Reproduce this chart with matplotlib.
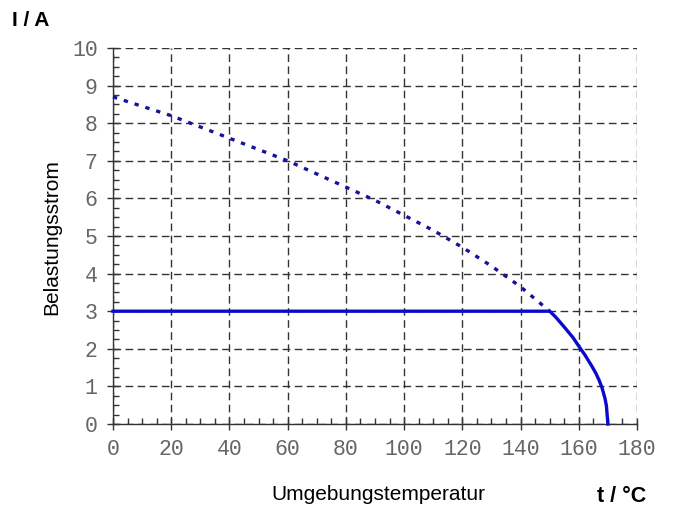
import matplotlib
matplotlib.use("Agg")
import matplotlib.pyplot as plt
from matplotlib.ticker import MultipleLocator

# derating curve: load current vs. ambient temperature
temp_max = [0, 10, 20, 30, 40, 50, 60, 70, 80, 90, 100, 110, 120, 130, 140, 150]
curr_max = [8.7, 8.45, 8.2, 7.9, 7.6, 7.3, 7.0, 6.65, 6.3, 5.95, 5.55, 5.15, 4.7, 4.2, 3.65, 3.0]

temp_op = [0, 150, 152, 155, 158, 160, 162, 164, 165, 166, 167, 168, 169, 169.5, 170]
curr_op = [3.0, 3.0, 2.85, 2.58, 2.3, 2.07, 1.85, 1.6, 1.47, 1.33, 1.16, 0.96, 0.68, 0.48, 0.0]

xticks = [0, 20, 40, 60, 80, 100, 120, 140, 160, 180]
yticks = [0, 1, 2, 3, 4, 5, 6, 7, 8, 9, 10]

fig = plt.figure(figsize=(6.77, 5.12), dpi=100)
ax = fig.add_axes([113/677, 1-424/512, 524/677, 376/512])

ax.set_xlim(0, 180)
ax.set_ylim(0, 10)
ax.set_xticks(xticks)
ax.set_yticks(yticks)
ax.xaxis.set_minor_locator(MultipleLocator(5))
ax.yaxis.set_minor_locator(MultipleLocator(0.25))

ax.grid(True, which="major", color="#333333", linestyle=(0, (5.5, 3.2)), linewidth=1.0)
for s in ["top", "right"]:
    ax.spines[s].set_visible(False)
for s in ["left", "bottom"]:
    ax.spines[s].set_color("#333333")
    ax.spines[s].set_linewidth(1.0)

ax.tick_params(which="major", direction="inout", length=8, width=1, color="#333333",
               labelsize=15.5, labelcolor="#666666", pad=7)
ax.tick_params(which="minor", direction="in", length=4, width=1, color="#333333")
for lbl in ax.get_xticklabels() + ax.get_yticklabels():
    lbl.set_family("Liberation Mono")

ax.plot(temp_max, curr_max, color="#14149a", linestyle=(0, (1.3, 2.1)), linewidth=2.4,
        zorder=3, clip_on=False)
ax.plot(temp_op, curr_op, color="#0a0acc", linewidth=2.4, zorder=4, clip_on=False,
        solid_joinstyle="round")

fig.text(12/677, 1-20/512, "I / A", fontsize=15, fontweight="bold", va="center", ha="left",
         family="Liberation Sans")
fig.text(597/677, 1-497/512, "t / °C", fontsize=15.5, fontweight="bold", va="center", ha="left",
         family="Liberation Sans")
fig.text(378/677, 1-495/512, "Umgebungstemperatur", fontsize=15, va="center", ha="center",
         family="Liberation Sans")
fig.text(52/677, 1-237/512, "Belastungsstrom", fontsize=15, va="center", ha="center",
         rotation=90, family="Liberation Sans")

fig.savefig("out.png", dpi=100)
